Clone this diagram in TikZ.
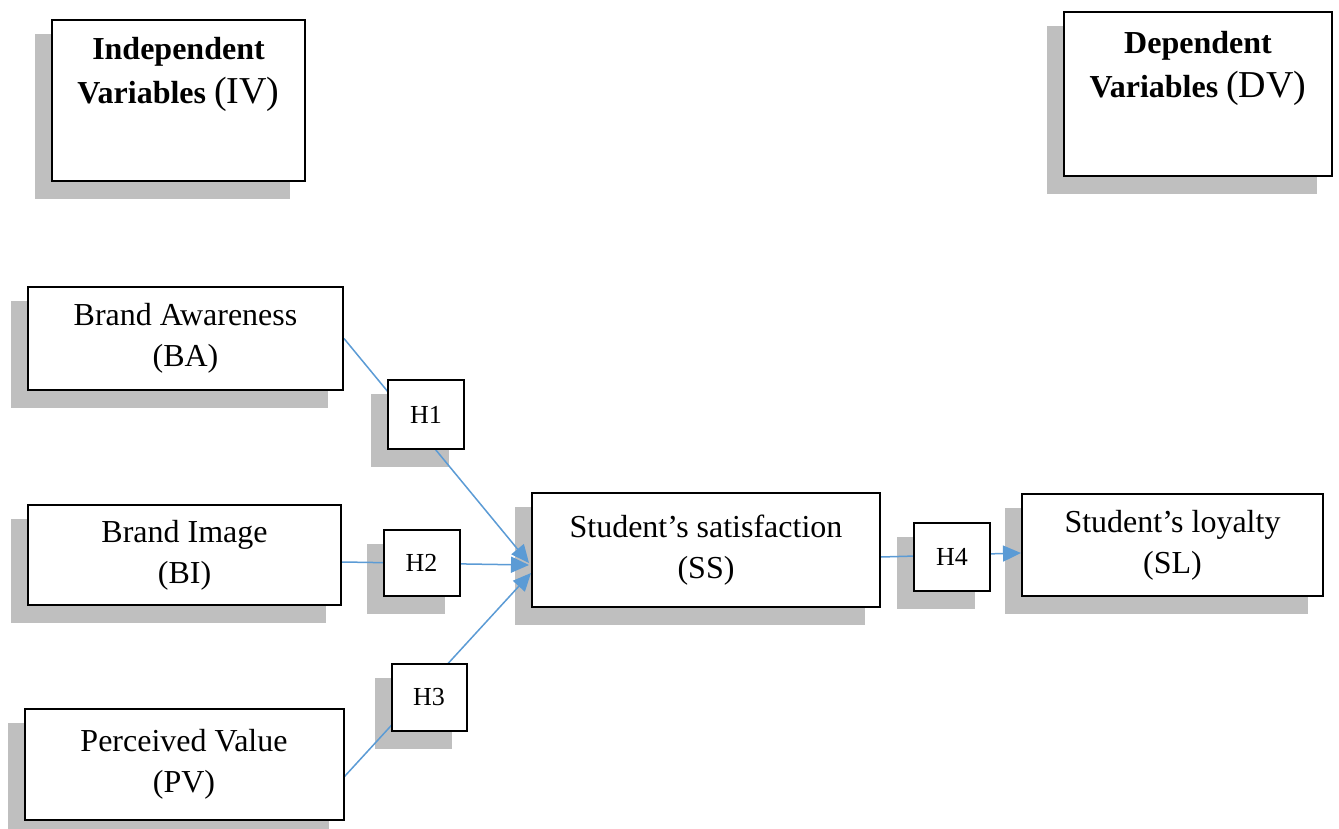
\documentclass[tikz,border=0pt]{standalone}
\usepackage{fontspec}
\setmainfont{Liberation Serif}
\usetikzlibrary{arrows.meta,calc}
\pgfdeclarelayer{shadowlayer}
\pgfdeclarelayer{linelayer}
\pgfsetlayers{shadowlayer,linelayer,main}
\definecolor{shadowgray}{HTML}{BFBFBF}
\definecolor{linkblue}{HTML}{5B9BD5}
\begin{document}
\begin{tikzpicture}[x=0.5pt,y=-0.5pt,
  box/.style={draw=black, line width=1pt, fill=white, rectangle, inner sep=0pt, align=center, font=\fontsize{16}{20.5}\selectfont},
  hbox/.style={draw=black, line width=1pt, fill=white, rectangle, inner sep=0pt, font=\fontsize{13}{15}\selectfont},
  hdr/.style={anchor=north, inner sep=0pt, align=center, font=\fontsize{16}{22}\selectfont},
  link/.style={draw=linkblue, line width=0.75pt},
  arr/.style={link, -{Triangle[length=9pt,width=8pt]}}
]
\useasboundingbox (0,0) rectangle (1339,829);
\begin{pgfonlayer}{shadowlayer}
\fill[white] (0,0) rectangle (1339,829);
\end{pgfonlayer}

% header boxes
\node[box, minimum width=126.5pt, minimum height=80.5pt] (IV) at (178.5,100.5) {};
\node[hdr] (IVt) at (178.5,37) {\textbf{Independent}\\\textbf{Variables} {\fontsize{19}{22}\selectfont(IV)}};
\node[box, minimum width=134pt, minimum height=82pt] (DV) at (1198,94) {};
\node[hdr] (DVt) at (1198,31) {\textbf{Dependent}\\\textbf{Variables} {\fontsize{19}{22}\selectfont(DV)}};

% variable boxes
\node[box, minimum width=157.5pt, minimum height=51.5pt] (BA) at (185.5,338.5) {Brand Awareness\\(BA)};
\node[box, minimum width=156.5pt, minimum height=50pt] (BI) at (184.5,555) {Brand Image\\(BI)};
\node[box, minimum width=159.5pt, minimum height=55.5pt] (PV) at (184,764.5) {Perceived Value\\(PV)};
\node[box, minimum width=174pt, minimum height=57pt] (SS) at (706,550) {Student’s satisfaction\\(SS)};
\node[box, minimum width=150.5pt, minimum height=51pt] (SL) at (1172.5,545) {\raisebox{-1.5pt}{Student’s loyalty}\\\raisebox{-1.5pt}{(SL)}};

% hypothesis boxes
\node[hbox, minimum width=38pt, minimum height=34.5pt] (H1) at (426,414.5) {H1};
\node[hbox, minimum width=38pt, minimum height=33pt] (H2) at (421.5,563) {H2};
\node[hbox, minimum width=37.5pt, minimum height=33.5pt] (H3) at (429,697.5) {H3};
\node[hbox, minimum width=38pt, minimum height=34pt] (H4) at (952,557) {H4};

% shadows
\begin{pgfonlayer}{shadowlayer}
\foreach \n in {IV,DV,BA,BI,PV,SS,SL,H1,H2,H3,H4}{
  \fill[shadowgray] ($(\n.north west)+(-16,15)$) rectangle ($(\n.south east)+(-16,17)$);
}
\end{pgfonlayer}

% connectors
\coordinate (ssA) at ($(SS.west)+(-2,13)$);
\coordinate (ssB) at ($(SS.west)+(-2,15)$);
\coordinate (ssC) at ($(SS.west)+(0,23)$);
\coordinate (biOut) at ($(BI.east)+(0,7)$);
\coordinate (pvOut) at ($(PV.east)+(0,12)$);
\coordinate (ssOut) at ($(SS.east)+(0,7)$);
\coordinate (slIn) at ($(SL.west)+(0,8)$);
\begin{pgfonlayer}{linelayer}
\draw[arr] (BA.east) -- (ssA);
\draw[arr] (biOut) -- (ssB);
\draw[arr] (pvOut) -- (ssC);
\draw[arr] (ssOut) -- (slIn);
\end{pgfonlayer}
\end{tikzpicture}
\end{document}
